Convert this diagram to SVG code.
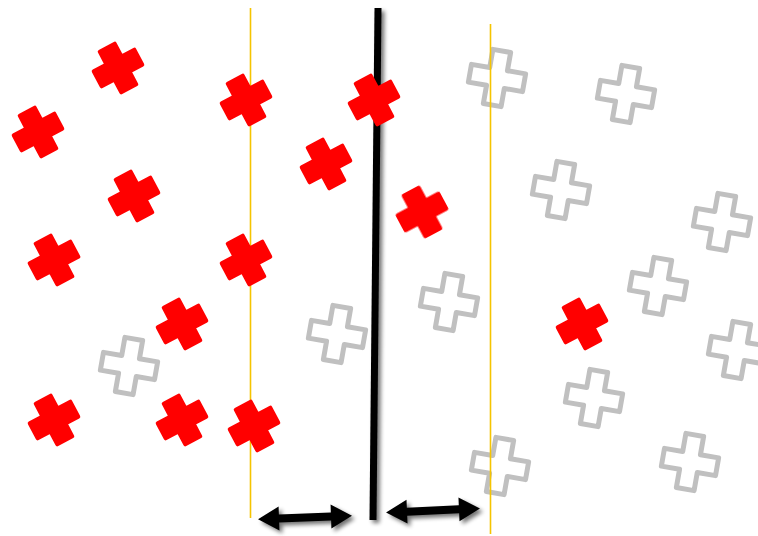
<svg xmlns="http://www.w3.org/2000/svg" width="758" height="536" viewBox="0 0 758 536">
<defs>
<filter id="sh" x="-20%" y="-20%" width="140%" height="140%">
<feGaussianBlur in="SourceAlpha" stdDeviation="2"/>
<feOffset dx="3" dy="3" result="b"/>
<feComponentTransfer><feFuncA type="linear" slope="0.55"/></feComponentTransfer>
<feMerge><feMergeNode/><feMergeNode in="SourceGraphic"/></feMerge>
</filter>
<polygon id="rc" points="-8.5,-23 8.5,-23 8.5,-8.5 23,-8.5 23,8.5 8.5,8.5 8.5,23 -8.5,23 -8.5,8.5 -23,8.5 -23,-8.5 -8.5,-8.5"/>
<polygon id="gc" points="-9,-27.5 9,-27.5 9,-9 27.5,-9 27.5,9 9,9 9,27.5 -9,27.5 -9,9 -27.5,9 -27.5,-9 -9,-9"/>
<polygon id="dar" points="-47,0 -26,-12 -26,-4 26,-4 26,-12 47,0 26,12 26,4 -26,4 -26,12"/>
</defs>
<style>
.red use{fill:#ff0000;stroke:#ff0000;stroke-width:4;stroke-linejoin:round}
.gray use{fill:none;stroke:#c0c0c0;stroke-width:5;stroke-linejoin:round}
.yl{stroke:#f5c400;stroke-width:1.6;fill:none}
</style>
<rect width="758" height="536" fill="#ffffff"/>
<g id="gray-points" class="gray">
<use href="#gc" transform="translate(497,78) rotate(10)"/>
<use href="#gc" transform="translate(626,94) rotate(10)"/>
<use href="#gc" transform="translate(561,190) rotate(10)"/>
<use href="#gc" transform="translate(722,222) rotate(10)"/>
<use href="#gc" transform="translate(449,302) rotate(10)"/>
<use href="#gc" transform="translate(658,286) rotate(10)"/>
<use href="#gc" transform="translate(337,334) rotate(10)"/>
<use href="#gc" transform="translate(129,366) rotate(10)"/>
<use href="#gc" transform="translate(737,350) rotate(10)"/>
<use href="#gc" transform="translate(594,398) rotate(10)"/>
<use href="#gc" transform="translate(500,466) rotate(10)"/>
<use href="#gc" transform="translate(690,462) rotate(10)"/>
</g>
<g id="margins">
<line class="yl" x1="250.5" y1="8" x2="250.5" y2="518"/>
<line class="yl" x1="490.5" y1="24" x2="490.5" y2="534"/>
</g>
<g id="connectors" filter="url(#sh)">
<line x1="378" y1="8" x2="373" y2="520" stroke="#000" stroke-width="7"/>
<use href="#dar" transform="translate(305,517.5) rotate(-2)" fill="#000"/>
<use href="#dar" transform="translate(433,510.5) rotate(-2.5)" fill="#000"/>
</g>
<g id="red-points" class="red">
<use href="#rc" transform="translate(118,68) rotate(-28)"/>
<use href="#rc" transform="translate(38,132) rotate(-28)"/>
<use href="#rc" transform="translate(246,100) rotate(-28)"/>
<use href="#rc" transform="translate(374,100) rotate(-28)"/>
<use href="#rc" transform="translate(326,164) rotate(-28)"/>
<use href="#rc" transform="translate(134,196) rotate(-28)"/>
<use href="#rc" transform="translate(422,212) rotate(-28)"/>
<use href="#rc" transform="translate(54,260) rotate(-28)"/>
<use href="#rc" transform="translate(246,260) rotate(-28)"/>
<use href="#rc" transform="translate(182,324) rotate(-28)"/>
<use href="#rc" transform="translate(582,324) rotate(-28)"/>
<use href="#rc" transform="translate(54,420) rotate(-28)"/>
<use href="#rc" transform="translate(182,420) rotate(-28)"/>
<use href="#rc" transform="translate(254,426) rotate(-28)"/>
</g>
</svg>
